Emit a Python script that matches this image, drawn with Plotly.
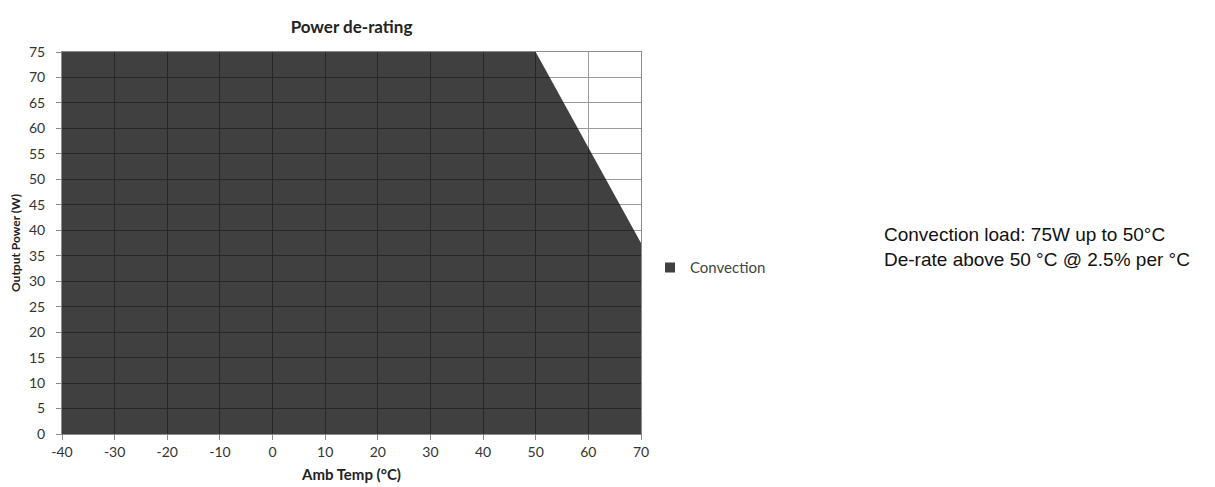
import plotly.graph_objects as go

temps = [-40, 50, 70]
power = [75, 75, 37.5]
series_name = "Convection"
x_ticks = [-40, -30, -20, -10, 0, 10, 20, 30, 40, 50, 60, 70]
x_tick_text = ["-40", "-30", "-20", "-10", "0", "10", "20", "30", "40", "50", "60", "70"]
y_ticks = [0, 5, 10, 15, 20, 25, 30, 35, 40, 45, 50, 55, 60, 65, 70, 75]
note_lines = ["Convection load: 75W up to 50°C", "De-rate above 50 °C @ 2.5% per °C"]

FONT = "Lato, 'Open Sans', sans-serif"
FILL = "rgba(0,0,0,0.75)"

fig = go.Figure()
fig.add_trace(go.Scatter(
    x=temps, y=power, name=series_name, mode="lines",
    line=dict(width=0, color=FILL),
    fill="tozeroy", fillcolor=FILL,
    showlegend=False, legendgroup="c",
))
# legend entry with a square swatch
fig.add_trace(go.Scatter(
    x=[None], y=[None], name=series_name, mode="markers",
    marker=dict(symbol="square", size=10, color="#404040"),
    showlegend=True, legendgroup="c",
))

axis_common = dict(
    showgrid=True, gridcolor="#9a9a9a", gridwidth=1,
    showline=True, linecolor="#8c8c8c", linewidth=1, mirror=True,
    ticks="outside", ticklen=5, tickcolor="#8c8c8c",
    tickfont=dict(family=FONT, size=14, color="#333333"),
    zeroline=False, automargin=False,
)

fig.update_layout(
    width=1215, height=487,
    margin=dict(l=54, r=582, t=44, b=61),
    paper_bgcolor="white", plot_bgcolor="white",
    title=dict(text="<b>Power de-rating</b>", x=(54 + 579 / 2) / 1215, xanchor="center",
               y=1 - 19 / 487, yanchor="middle", yref="container",
               font=dict(family=FONT, size=17, color="#222222")),
    xaxis=dict(range=[-40, 70], tickvals=x_ticks, ticktext=x_tick_text, **axis_common,
               title=dict(text="<b>Amb Temp (°C)</b>", standoff=10,
                          font=dict(family=FONT, size=15, color="#222222"))),
    yaxis=dict(range=[0, 75], tickvals=y_ticks, **axis_common,
               ticklabelstandoff=8,
               title=dict(text="<b>Output Power (W)</b>", standoff=9,
                          font=dict(family=FONT, size=12, color="#222222"))),
    legend=dict(x=(650 - 62) / 579, xanchor="left", y=0.435, yanchor="middle",
                font=dict(family=FONT, size=15, color="#444444"),
                bgcolor="rgba(0,0,0,0)", itemwidth=30),
    annotations=[dict(
        text="<br>".join(note_lines), xref="paper", yref="paper",
        x=(882 - 62) / 579, y=0.49, xanchor="left", yanchor="middle", align="left",
        showarrow=False, font=dict(family="Liberation Sans, Arial, sans-serif", size=19, color="#111111"),
    )],
)

fig.write_html("out.html")
